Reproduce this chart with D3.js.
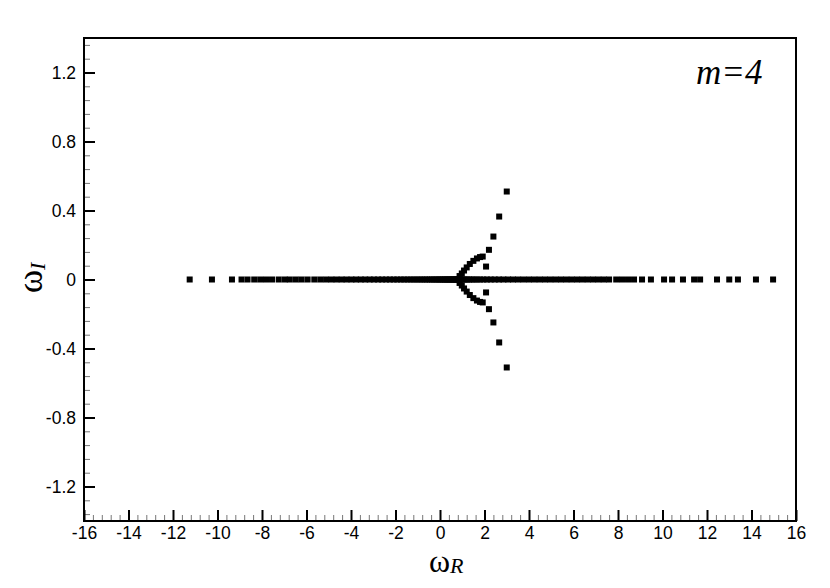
<!DOCTYPE html>
<html>
<head>
<meta charset="utf-8">
<script src="https://cdn.jsdelivr.net/npm/d3@7"></script>
<style>
  body { margin: 0; background: #fff; }
  .tick text { font-family: "Liberation Sans", Arial, sans-serif; font-size: 17.5px; fill: #000; }
</style>
</head>
<body>
<div id="chart"></div>
<script>
// eigenvalues on the real axis (omega_I = 0)
const realAxisR = [
  -11.25, -10.25, -9.35, -8.92, -8.65, -8.35, -8.08, -7.82, -7.55, -7.25,
  -6.98, -6.75, -6.48, -6.22, -5.95, -5.65, -5.38, -5.12, -4.88, -4.65,
  -4.42, -4.2, -3.98, -3.77, -3.56, -3.36, -3.16, -2.97, -2.78, -2.6,
  -2.42, -2.25, -2.08, -1.92, -1.76, -1.61, -1.46, -1.32, -1.18, -1.05,
  -0.92, -0.8, -0.68, -0.57, -0.46, -0.36, -0.26, -0.17, -0.08, 0.0,
  0.08, 0.15, 0.22, 0.29, 0.35, 0.41, 0.47, 0.53, 0.58, 0.63,
  0.68, 0.72, 0.76, 0.8, 0.85, 0.9, 0.96, 1.03, 1.11, 1.2,
  1.3, 1.41, 1.53, 1.66, 1.8, 1.95, 2.11, 2.28, 2.46, 2.65,
  2.85, 3.06, 3.28, 3.51, 3.75, 4.0, 4.24, 4.48, 4.72, 4.96,
  5.2, 5.44, 5.68, 5.92, 6.16, 6.4, 6.64, 6.88, 7.12, 7.36,
  7.6, 7.92, 8.18, 8.45, 8.72, 9.08, 9.48, 10.07, 10.43, 10.92,
  11.42, 11.69, 12.45, 13.0, 13.39, 14.2, 14.97
];

// complex pairs (upper half, mirrored below)
const pairR = [0.88, 0.98, 1.08, 1.2, 1.34, 1.5, 1.66, 1.8, 1.92, 2.07, 2.2, 2.4, 2.66, 3.0];
const pairI = [0.02, 0.035, 0.052, 0.07, 0.09, 0.108, 0.122, 0.13, 0.133, 0.075, 0.172, 0.249, 0.365, 0.51];

const xTicks = [-16, -14, -12, -10, -8, -6, -4, -2, 0, 2, 4, 6, 8, 10, 12, 14, 16];
const yTicks = [-1.2, -0.8, -0.4, 0, 0.4, 0.8, 1.2];
const xMinor = [-15.6, -15.2, -14.8, -14.4, -13.6, -13.2, -12.8, -12.4, -11.6, -11.2, -10.8, -10.4,
  -9.6, -9.2, -8.8, -8.4, -7.6, -7.2, -6.8, -6.4, -5.6, -5.2, -4.8, -4.4, -3.6, -3.2, -2.8, -2.4,
  -1.6, -1.2, -0.8, -0.4, 0.4, 0.8, 1.2, 1.6, 2.4, 2.8, 3.2, 3.6, 4.4, 4.8, 5.2, 5.6,
  6.4, 6.8, 7.2, 7.6, 8.4, 8.8, 9.2, 9.6, 10.4, 10.8, 11.2, 11.6, 12.4, 12.8, 13.2, 13.6,
  14.4, 14.8, 15.2, 15.6];
const yMinor = [-1.36, -1.28, -1.12, -1.04, -0.96, -0.88, -0.72, -0.64, -0.56, -0.48,
  -0.32, -0.24, -0.16, -0.08, 0.08, 0.16, 0.24, 0.32, 0.48, 0.56, 0.64, 0.72,
  0.88, 0.96, 1.04, 1.12, 1.28, 1.36];

const width = 830;
const height = 588;
const margin = { top: 38, right: 34, bottom: 67, left: 84 };

const svg = d3.select('#chart').append('svg')
  .attr('width', width)
  .attr('height', height);

const xScale = d3.scaleLinear().domain([-16, 16]).range([margin.left, width - margin.right]);
const yScale = d3.scaleLinear().domain([-1.4, 1.4]).range([height - margin.bottom, margin.top]);

const plotW = width - margin.left - margin.right;
const plotH = height - margin.top - margin.bottom;

// minor ticks first (thin, grey)
svg.append('g')
  .attr('transform', `translate(0, ${height - margin.bottom})`)
  .call(d3.axisBottom(xScale).tickValues(xMinor).tickSize(-6).tickFormat(''))
  .call(g => g.select('.domain').remove())
  .call(g => g.selectAll('line').attr('stroke', '#777').attr('stroke-width', 1));

svg.append('g')
  .attr('transform', `translate(${margin.left}, 0)`)
  .call(d3.axisLeft(yScale).tickValues(yMinor).tickSize(-6).tickFormat(''))
  .call(g => g.select('.domain').remove())
  .call(g => g.selectAll('line').attr('stroke', '#777').attr('stroke-width', 1));

// major ticks
svg.append('g')
  .attr('transform', `translate(0, ${height - margin.bottom})`)
  .call(d3.axisBottom(xScale).tickValues(xTicks).tickSize(-11).tickPadding(6).tickFormat(d => String(d)))
  .call(g => g.select('.domain').remove())
  .call(g => g.selectAll('line').attr('stroke', '#000').attr('stroke-width', 2));

svg.append('g')
  .attr('transform', `translate(${margin.left}, 0)`)
  .call(d3.axisLeft(yScale).tickValues(yTicks).tickSize(-11).tickPadding(8)
    .tickFormat(d => d === 0 ? '0' : d.toFixed(1)))
  .call(g => g.select('.domain').remove())
  .call(g => g.selectAll('line').attr('stroke', '#000').attr('stroke-width', 2));

// frame
svg.append('rect')
  .attr('x', margin.left)
  .attr('y', margin.top)
  .attr('width', plotW)
  .attr('height', plotH)
  .attr('fill', 'none')
  .attr('stroke', '#000')
  .attr('stroke-width', 2);

// points
const pts = realAxisR.map(r => ({ r, i: 0 }));
pairR.forEach((r, k) => {
  pts.push({ r, i: pairI[k] });
  pts.push({ r, i: -pairI[k] });
});

const s = 6;
svg.append('g').selectAll('rect')
  .data(pts)
  .join('rect')
  .attr('x', d => xScale(d.r) - s / 2)
  .attr('y', d => yScale(d.i) - s / 2)
  .attr('width', s)
  .attr('height', s)
  .attr('fill', '#000');

// axis titles
const xt = svg.append('text')
  .attr('x', 429)
  .attr('y', 572)
  .attr('font-family', '"Liberation Serif", "Times New Roman", serif')
  .attr('fill', '#000');
xt.append('tspan').attr('font-size', 32).text('ω');
xt.append('tspan').attr('font-size', 22).attr('font-style', 'italic').attr('dy', 1).text('R');

const yt = svg.append('text')
  .attr('transform', 'translate(42, 293) rotate(-90)')
  .attr('font-family', '"Liberation Serif", "Times New Roman", serif')
  .attr('fill', '#000');
yt.append('tspan').attr('font-size', 35).text('ω');
yt.append('tspan').attr('font-size', 22).attr('font-style', 'italic').attr('dy', 3).text('I');

svg.append('text')
  .attr('x', 696)
  .attr('y', 84)
  .attr('font-family', '"Liberation Serif", "Times New Roman", serif')
  .attr('font-style', 'italic')
  .attr('font-size', 35)
  .attr('fill', '#000')
  .text('m=4');
</script>
</body>
</html>
